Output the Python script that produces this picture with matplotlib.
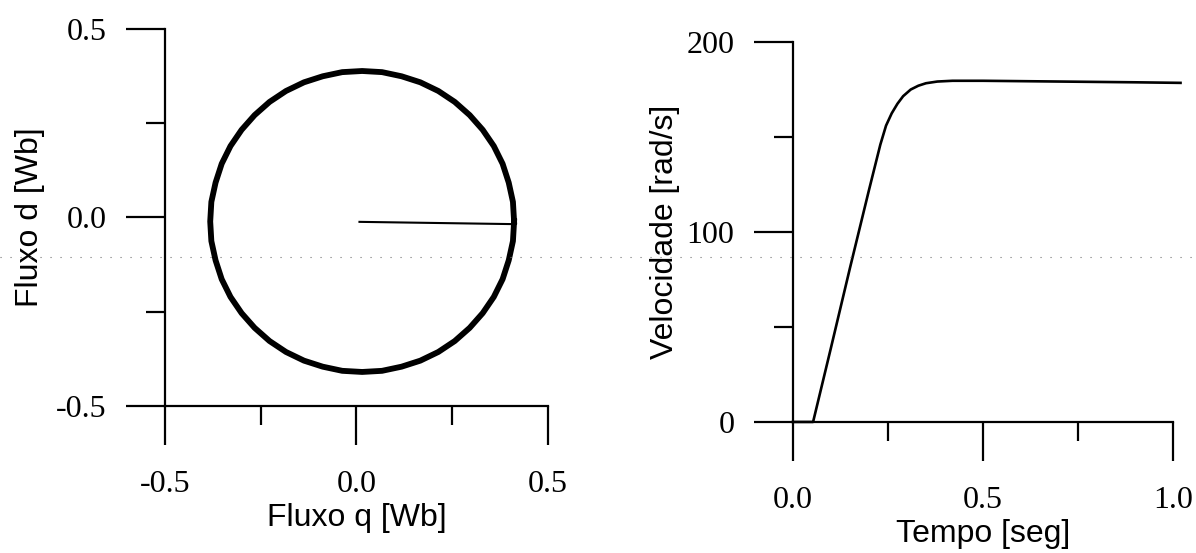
import matplotlib
matplotlib.use("Agg")
import matplotlib.pyplot as plt
from matplotlib.lines import Line2D
from matplotlib.ticker import MultipleLocator

# fluxo do estator (trajetoria no plano q-d)
fluxo_q = [0.412, 0.409, 0.398, 0.382, 0.359, 0.330, 0.296, 0.257, 0.214,
           0.167, 0.118, 0.067, 0.015, -0.037, -0.088, -0.137, -0.184,
           -0.227, -0.266, -0.300, -0.329, -0.352, -0.368, -0.379, -0.382,
           -0.379, -0.368, -0.352, -0.329, -0.300, -0.266, -0.227, -0.184,
           -0.137, -0.088, -0.037, 0.015, 0.067, 0.118, 0.167, 0.214, 0.257,
           0.296, 0.330, 0.359, 0.382, 0.398, 0.409, 0.412]
fluxo_d = [-0.011, 0.041, 0.092, 0.142, 0.189, 0.232, 0.271, 0.306, 0.335,
           0.358, 0.374, 0.385, 0.388, 0.385, 0.374, 0.358, 0.335, 0.306,
           0.271, 0.232, 0.189, 0.142, 0.092, 0.041, -0.011, -0.063, -0.114,
           -0.164, -0.211, -0.254, -0.293, -0.328, -0.357, -0.380, -0.396,
           -0.407, -0.410, -0.407, -0.396, -0.380, -0.357, -0.328, -0.293,
           -0.254, -0.211, -0.164, -0.114, -0.063, -0.011]
# transitorio inicial (magnetizacao)
inicio_q = [0.008, 0.410]
inicio_d = [-0.012, -0.018]

# velocidade do rotor
tempo = [0.0, 0.053, 0.10, 0.15, 0.20, 0.23, 0.245, 0.26, 0.275, 0.29, 0.31,
         0.33, 0.35, 0.38, 0.42, 0.50, 0.60, 0.70, 0.80, 0.90, 1.02]
velocidade = [0, 0, 39, 81, 122, 146, 156, 162.5, 167.5, 171.5, 175,
              177, 178.3, 179.2, 179.6, 179.6, 179.4, 179.2, 179.0, 178.8, 178.5]

serif = "Liberation Serif"
sans = "Liberation Sans"

fig = plt.figure(figsize=(11.96, 5.53), dpi=100)
fig.patch.set_facecolor("white")

ax1 = fig.add_axes([0.138, 0.266, 0.320, 0.682])
ax2 = fig.add_axes([0.6630, 0.237, 0.3177, 0.687])


def estilo(ax):
    for s in ["top", "right"]:
        ax.spines[s].set_visible(False)
    for s in ["left", "bottom"]:
        ax.spines[s].set_linewidth(1.6)
    ax.tick_params(which="major", direction="out", length=28, width=1.6)
    ax.tick_params(which="minor", direction="out", length=14, width=1.6)
    ax.tick_params(axis="y", which="major", pad=14)
    ax.tick_params(axis="x", which="major", pad=18)
    for lab in ax.get_xticklabels() + ax.get_yticklabels():
        lab.set_fontfamily(serif)
        lab.set_fontsize(23)


# painel esquerdo: fluxo
ax1.plot(fluxo_q, fluxo_d, color="black", lw=4.2, solid_joinstyle="round")
ax1.plot(inicio_q, inicio_d, color="black", lw=1.5)
ax1.set_xlim(-0.5, 0.5)
ax1.set_ylim(-0.5, 0.5)
ax1.xaxis.set_minor_locator(MultipleLocator(0.25))
ax1.yaxis.set_minor_locator(MultipleLocator(0.25))
ax1.set_xticks([-0.5, 0.0, 0.5])
ax1.set_xticklabels(["-0.5", "0.0", "0.5"])
ax1.set_yticks([-0.5, 0.0, 0.5])
ax1.set_yticklabels(["-0.5", "0.0", "0.5"])
estilo(ax1)
ax1.set_xlabel("Fluxo q [Wb]", fontfamily=sans, fontsize=23, labelpad=3)
ax1.set_ylabel("Fluxo d [Wb]", fontfamily=sans, fontsize=23, labelpad=8)

# painel direito: velocidade
ax2.plot(tempo, velocidade, color="black", lw=1.9, clip_on=False)
ax2.set_xlim(0, 1.0)
ax2.set_ylim(0, 200)
ax2.xaxis.set_minor_locator(MultipleLocator(0.25))
ax2.yaxis.set_minor_locator(MultipleLocator(50))
ax2.set_xticks([0.0, 0.5, 1.0])
ax2.set_xticklabels(["0.0", "0.5", "1.0"])
ax2.set_yticks([0, 100, 200])
ax2.set_yticklabels(["0", "100", "200"])
estilo(ax2)
ax2.set_xlabel("Tempo [seg]", fontfamily=sans, fontsize=23, labelpad=3)
ax2.set_ylabel("Velocidade [rad/s]", fontfamily=sans, fontsize=23, labelpad=5)

# linha pontilhada horizontal que atravessa a figura
y_pont = 1 - 257 / 553
fig.add_artist(Line2D([0, 1], [y_pont, y_pont], transform=fig.transFigure,
                      color="0.45", lw=0.8, linestyle=(0, (1, 8))))

fig.savefig("out.png", dpi=100)
